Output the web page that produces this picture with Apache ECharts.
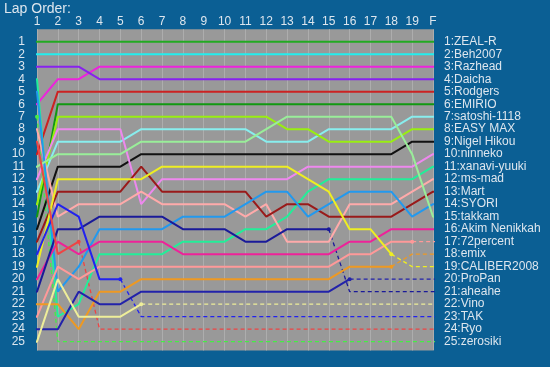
<!DOCTYPE html>
<html><head><meta charset="utf-8">
<script src="https://cdn.jsdelivr.net/npm/echarts@6/dist/echarts.min.js"></script>
<style>html,body{margin:0;padding:0;background:#0b5f94;}#c{width:550px;height:367px;}</style>
</head><body><div id="c"></div>
<script>
// Lap columns (1..19, F)
const laps = ['1','2','3','4','5','6','7','8','9','10','11','12','13','14','15','16','17','18','19','F'];
// Names in final order
const names = ['ZEAL-R','Beh2007','Razhead','Daicha','Rodgers','EMIRIO','satoshi-1118','EASY MAX','Nigel Hikou','ninneko','xanavi-yuuki','ms-mad','Mart','SYORI','takkam','Akim Nenikkah','72percent','emix','CALIBER2008','ProPan','aheahe','Vino','TAK','Ryo','zerosiki'];
// Position per lap (L1 = grid .. F)
const pZEAL   = [1,1,1,1,1,1,1,1,1,1,1,1,1,1,1,1,1,1,1,1];
const pBeh    = [2,2,2,2,2,2,2,2,2,2,2,2,2,2,2,2,2,2,2,2];
const pRaz    = [6,4,4,3,3,3,3,3,3,3,3,3,3,3,3,3,3,3,3,3];
const pDai    = [3,3,3,4,4,4,4,4,4,4,4,4,4,4,4,4,4,4,4,4];
const pRod    = [10,5,5,5,5,5,5,5,5,5,5,5,5,5,5,5,5,5,5,5];
const pEMI    = [15,6,6,6,6,6,6,6,6,6,6,6,6,6,6,6,6,6,6,6];
const pSato   = [13,9,9,9,9,8,8,8,8,8,8,9,9,9,8,8,8,8,7,7];
const pEasy   = [14,7,7,7,7,7,7,7,7,7,7,7,8,8,9,9,9,9,8,8];
const pNigel  = [16,11,11,11,11,10,10,10,10,10,10,10,10,10,10,10,10,10,9,9];
const pNin    = [12,8,8,8,8,14,12,12,12,12,12,12,12,11,11,11,11,11,11,10];
const pXan    = [4,23,22,18,18,18,18,17,17,17,16,16,15,13,12,12,12,12,12,11];
const pMsmad  = [8,15,14,14,14,13,14,14,14,14,15,14,17,17,17,14,14,14,13,12];
const pMart   = [17,13,13,13,13,11,13,13,13,13,13,15,14,14,15,15,15,15,14,13];
const pSyori  = [5,21,19,16,16,16,16,15,15,15,14,13,13,15,14,13,13,13,15,14];
const pTakkam = [11,10,10,10,10,9,9,9,9,9,9,8,7,7,7,7,7,7,10,15];
const pAkim   = [20,17,18,17,17,17,17,18,18,18,18,18,18,18,18,17,17,16,16,16];
const p72     = [23,19,20,19,19,19,19,19,19,19,19,19,19,19,19,18,18,17,17,17];
const pEmix   = [22,22,24,21,21,20,20,20,20,20,20,20,20,20,20,19,19,19,18,18];
const pCal    = [19,12,12,12,12,12,11,11,11,11,11,11,11,12,13,16,16,18,19,19];
const pProPan = [24,24,21,22,22,21,21,21,21,21,21,21,21,21,21,20,20,20,20,20];
const pAhe    = [21,16,16,15,15,15,15,16,16,16,17,17,16,16,16,21,21,21,21,21];
const pVino   = [25,20,23,23,23,22,22,22,22,22,22,22,22,22,22,22,22,22,22,22];
const pTAK    = [18,14,15,20,20,23,23,23,23,23,23,23,23,23,23,23,23,23,23,23];
const pRyo    = [9,18,17,24,24,24,24,24,24,24,24,24,24,24,24,24,24,24,24,24];
const pZero   = [7,25,25,25,25,25,25,25,25,25,25,25,25,25,25,25,25,25,25,25];
// Lap after which line turns dashed (0 = finished running)
const retireLap = [0,0,0,0,0,0,0,0,0,0,0,0,0,0,0,0,19,18,18,16,15,6,5,3,1];

const positions = [pZEAL,pBeh,pRaz,pDai,pRod,pEMI,pSato,pEasy,pNigel,pNin,pXan,pMsmad,pMart,pSyori,pTakkam,pAkim,p72,pEmix,pCal,pProPan,pAhe,pVino,pTAK,pRyo,pZero];
const colors = ['#22aa22','#22eeee','#ee22dd','#8822ee','#cc2222','#119911','#88eeee','#99ee11','#111111','#ee88ee','#22ee99','#ffaaaa','#991a1a','#2299ee','#99ee99','#ee2299','#ff9999','#ee9922','#eeee22','#2222aa','#1a1a99','#eeee99','#2222ee','#ee4444','#44ee44'];

const txt = '#dde6ee';
const series = [];
positions.forEach((pos, i) => {
  const pts = [[1 - 0.29, pos[0]]];
  pos.forEach((p, k) => pts.push([k + 1, p]));
  pts.push([laps.length + 0.38, pos[pos.length - 1]]);
  const r = retireLap[i];
  if (!r) {
    series.push({type:'line', data:pts, symbol:'none', clip:false, lineStyle:{color:colors[i], width:2}, z:3});
  } else {
    const solid = pts.slice(0, r + 1).map(d => ({value:d}));
    solid[solid.length - 1] = {value: solid[solid.length - 1].value, symbol:'circle', symbolSize:4};
    series.push({type:'line', data:solid, symbol:'none', clip:false, itemStyle:{color:colors[i]}, lineStyle:{color:colors[i], width:2}, z:3});
    series.push({type:'line', data:pts.slice(r), symbol:'none', clip:false, lineStyle:{color:colors[i], width:1.3, type:[4,3]}, z:2});
  }
});

const chart = echarts.init(document.getElementById('c'), null, {renderer:'canvas'});
chart.setOption({
  backgroundColor:'#0b5f94',
  animation:false,
  title:{text:'Lap Order:', left:-1, top:-3, textStyle:{color:txt, fontSize:14, fontWeight:'normal', fontFamily:'Liberation Sans'}},
  grid:{left:37, right:117, top:29.2, bottom:16.6, show:true, backgroundColor:'#999999', borderWidth:0},
  xAxis:{type:'value', min:1, max:laps.length, interval:1, position:'top',
    axisLine:{show:false}, axisTick:{show:false},
    axisLabel:{color:txt, fontSize:12, fontFamily:'Liberation Sans', margin:2, formatter:v => laps[v - 1] || ''},
    splitLine:{show:true, lineStyle:{color:'#adadad', width:1}}},
  yAxis:[
    {type:'value', inverse:true, min:0, max:25.7, interval:1, position:'left',
      axisLine:{show:false}, axisTick:{show:false}, splitLine:{show:false},
      axisLabel:{color:txt, fontSize:12, fontFamily:'Liberation Sans', margin:12, formatter:v => (v >= 1 && v <= names.length && Number.isInteger(v)) ? String(v) : ''}},
    {type:'value', inverse:true, min:0, max:25.7, interval:1, position:'right',
      axisLine:{show:false}, axisTick:{show:false}, splitLine:{show:false},
      axisLabel:{color:txt, fontSize:12, fontFamily:'Liberation Sans', margin:11, formatter:v => (v >= 1 && v <= names.length && Number.isInteger(v)) ? v + ':' + names[v - 1] : ''}}
  ],
  series: series
});
</script></body></html>
